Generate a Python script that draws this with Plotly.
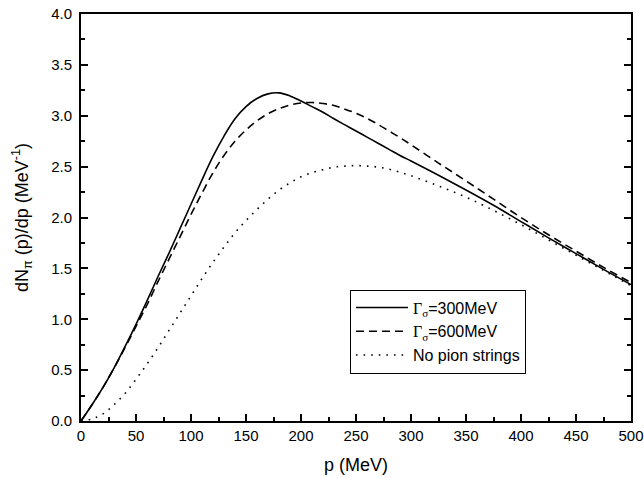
import plotly.graph_objects as go

# momentum grid (MeV)
p = [0, 10, 20, 30, 40, 50, 60, 70, 80, 90, 100, 110, 120, 130, 140, 150,
     160, 170, 180, 190, 200, 210, 220, 230, 240, 250, 260, 270, 280, 290,
     300, 325, 350, 375, 400, 425, 450, 475, 500]

# Gamma_sigma = 300 MeV
g300 = [0, 0.16, 0.33, 0.52, 0.73, 0.95, 1.18, 1.42, 1.65, 1.89, 2.13, 2.37,
        2.60, 2.80, 2.97, 3.09, 3.17, 3.215, 3.225, 3.195, 3.145, 3.09, 3.035,
        2.97, 2.91, 2.85, 2.79, 2.73, 2.67, 2.61, 2.555, 2.415, 2.27, 2.12,
        1.96, 1.80, 1.645, 1.49, 1.34]

# Gamma_sigma = 600 MeV
g600 = [0, 0.16, 0.33, 0.52, 0.72, 0.93, 1.14, 1.37, 1.59, 1.81, 2.03, 2.24,
        2.44, 2.61, 2.75, 2.86, 2.95, 3.02, 3.07, 3.105, 3.125, 3.13, 3.12,
        3.10, 3.065, 3.025, 2.975, 2.915, 2.85, 2.785, 2.715, 2.535, 2.36, 2.18,
        2.00, 1.83, 1.67, 1.51, 1.36]

# no pion strings
nostr = [0, 0.02, 0.07, 0.16, 0.27, 0.41, 0.56, 0.72, 0.89, 1.06, 1.23, 1.40,
         1.56, 1.71, 1.85, 1.97, 2.08, 2.18, 2.27, 2.34, 2.40, 2.44, 2.47,
         2.495, 2.505, 2.51, 2.505, 2.495, 2.475, 2.445, 2.41, 2.31, 2.20, 2.07,
         1.93, 1.78, 1.63, 1.48, 1.33]

serif = '<span style="font-family:Liberation Serif">'
names = [serif + 'Γ<sub>σ</sub></span>=300MeV',
         serif + 'Γ<sub>σ</sub></span>=600MeV',
         'No pion strings']

fig = go.Figure()
fig.add_trace(go.Scatter(x=p, y=g300, name=names[0], mode='lines', line_shape='spline',
                         line=dict(color='black', width=1.6)))
fig.add_trace(go.Scatter(x=p, y=g600, name=names[1], mode='lines', line_shape='spline',
                         line=dict(color='black', width=1.6, dash='8px,5px')))
fig.add_trace(go.Scatter(x=p, y=nostr, name=names[2], mode='lines', line_shape='spline',
                         line=dict(color='black', width=1.6, dash='1.6px,6px')))

axis_common = dict(
    showgrid=False, zeroline=False, showline=True, linecolor='black', linewidth=2,
    ticks='inside', ticklen=7, tickwidth=1.5, tickcolor='black', automargin=False,
    tickfont=dict(family='Liberation Sans', size=15, color='black'),
)

fig.update_xaxes(
    range=[0, 500], dtick=50, mirror=True,
    minor=dict(dtick=25, ticks='inside', ticklen=4, tickcolor='black', tickwidth=1.5),
    title=dict(text='p (MeV)', font=dict(family='Liberation Sans', size=18, color='black'), standoff=15),
    **axis_common
)
fig.update_yaxes(
    range=[0, 4.0], dtick=0.5, tickformat='.1f', mirror='ticks', ticklabelstandoff=4,
    minor=dict(dtick=0.25, ticks='inside', ticklen=4, tickcolor='black', tickwidth=1.5),
    title=dict(text='dN<sub>π</sub> (p)/dp (MeV<sup>-1</sup>)',
               font=dict(family='Liberation Sans', size=18, color='black'), standoff=18),
    **axis_common
)

fig.update_layout(
    width=644, height=478,
    margin=dict(l=81, r=13, t=14, b=57),
    plot_bgcolor='white', paper_bgcolor='white',
    showlegend=True,
    legend=dict(x=0.489, y=0.323, xanchor='left', yanchor='top',
                bordercolor='black', borderwidth=1, bgcolor='white',
                font=dict(family='Liberation Sans', size=16, color='black'),
                tracegroupgap=0, itemwidth=52),
)

# drop the default 8px body margin so the figure sits at the window corner
fig.write_html("out.html", config={'displayModeBar': False},
               post_script="document.body.style.margin='0';")
